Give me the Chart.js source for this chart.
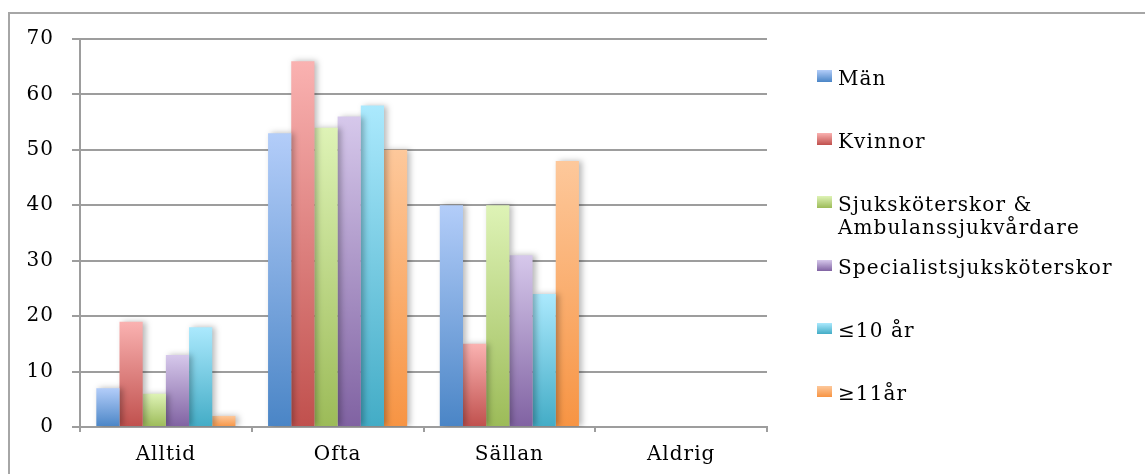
<!DOCTYPE html>
<html lang="sv">
<head>
<meta charset="utf-8">
<script src="https://cdn.jsdelivr.net/npm/chart.js@4"></script>
<style>
  html, body { margin: 0; padding: 0; background: #fff; }
  body { width: 1145px; height: 474px; position: relative; overflow: hidden; font-family: "DejaVu Serif", serif; }
  #frame { position: absolute; left: 8px; top: 12px; width: 1200px; height: 500px;
           border-left: 2px solid #a6a6a6; border-top: 2px solid #a6a6a6; }
  #wrap { position: absolute; left: 0; top: 0; width: 1145px; height: 474px; }
  #legend { position: absolute; left: 817px; top: 66.5px; width: 320px; }
  .item { display: flex; align-items: flex-start; height: 63.2px;
          font-size: 20px; line-height: 23px; letter-spacing: 1.1px; color: #000; }
  .swatch { width: 15px; height: 11.5px; margin-top: 3.5px; margin-right: 6px; flex: none; }
  .txt { width: 300px; }
</style>
</head>
<body>
<div id="frame"></div>
<div id="wrap"><canvas id="c" width="1145" height="474"></canvas></div>
<div id="legend"></div>
<script>
// Svarsalternativ på x-axeln
const categories = ["Alltid", "Ofta", "Sällan", "Aldrig"];

// Grupper
const seriesNames = [
  "Män",
  "Kvinnor",
  "Sjuksköterskor & Ambulanssjukvårdare",
  "Specialistsjuksköterskor",
  "≤10 år",
  "≥11år"
];

// Andel per grupp (%)
const man          = [7, 53, 40, 0];
const kvinnor      = [19, 66, 15, 0];
const sjukskot     = [6, 54, 40, 0];
const specialist   = [13, 56, 31, 0];
const upTo10       = [18, 58, 24, 0];
const from11       = [2, 50, 48, 0];

const yTicks = [0, 10, 20, 30, 40, 50, 60, 70];

// Ljus (överst) och mörk (nederst) ton per serie
const palette = [
  ["#b3cdf9", "#4a85c6"],
  ["#fab2b1", "#c0504d"],
  ["#def3b6", "#9cbb58"],
  ["#d6c8eb", "#8062a2"],
  ["#abe9fd", "#43acc6"],
  ["#fdc89b", "#f79443"]
];

const values = [man, kvinnor, sjukskot, specialist, upTo10, from11];

function barGradient(i) {
  return function (ctx) {
    const chart = ctx.chart;
    if (!chart.chartArea || ctx.raw === undefined) return palette[i][1];
    const ys = chart.scales.y;
    const top = ys.getPixelForValue(ctx.raw);
    const base = ys.getPixelForValue(0);
    if (!(base - top > 0.5)) return palette[i][1];
    const g = chart.ctx.createLinearGradient(0, top, 0, base);
    g.addColorStop(0, palette[i][0]);
    g.addColorStop(1, palette[i][1]);
    return g;
  };
}

const datasets = seriesNames.map((name, i) => ({
  label: name,
  data: values[i],
  backgroundColor: barGradient(i),
  borderWidth: 0,
  categoryPercentage: 0.81,
  barPercentage: 1.0
}));

// Något bredare teckenavstånd för axeltexterna
const letterSpacing = {
  id: "letterSpacing",
  beforeInit(chart) { chart.ctx.letterSpacing = "1px"; },
  beforeDraw(chart) { chart.ctx.letterSpacing = "1px"; }
};

// Mjuk skugga bakom staplarna
const barShadow = {
  id: "barShadow",
  beforeDatasetsDraw(chart) {
    const c = chart.ctx;
    c.save();
    c.shadowColor = "rgba(0,0,0,0.28)";
    c.shadowBlur = 6;
    c.shadowOffsetX = 3;
    c.shadowOffsetY = 0;
  },
  afterDatasetsDraw(chart) {
    chart.ctx.restore();
  }
};

const gridColor = "#9d9d9d";
const font = { family: "'DejaVu Serif', serif", size: 20 };

new Chart(document.getElementById("c"), {
  type: "bar",
  data: { labels: categories, datasets },
  options: {
    responsive: false,
    animation: false,
    devicePixelRatio: 1,
    layout: { padding: { top: 39, right: 378, left: 0, bottom: 0 } },
    plugins: { legend: { display: false }, tooltip: { enabled: false } },
    scales: {
      x: {
        offset: true,
        grid: { display: true, drawOnChartArea: false, drawTicks: true, tickLength: 5,
                color: gridColor, lineWidth: 2, offset: true },
        border: { display: true, color: gridColor, width: 2 },
        ticks: { color: "#000", font, padding: 11 },
        afterFit(s) { s.height = 47; }
      },
      y: {
        min: 0, max: 70,
        afterBuildTicks(s) { s.ticks = yTicks.map(v => ({ value: v })); },
        grid: { color: gridColor, lineWidth: 2, tickLength: 8, drawTicks: true },
        border: { display: true, color: gridColor, width: 2 },
        ticks: { color: "#000", font, padding: 18 },
        afterFit(s) { s.width = 80; }
      }
    }
  },
  plugins: [letterSpacing, barShadow]
});

// Förklaring till höger
const legend = document.getElementById("legend");
seriesNames.forEach((name, i) => {
  const item = document.createElement("div");
  item.className = "item";
  const sw = document.createElement("span");
  sw.className = "swatch";
  sw.style.background = `linear-gradient(${palette[i][0]}, ${palette[i][1]})`;
  const t = document.createElement("span");
  t.className = "txt";
  t.textContent = name;
  item.appendChild(sw);
  item.appendChild(t);
  legend.appendChild(item);
});
</script>
</body>
</html>
